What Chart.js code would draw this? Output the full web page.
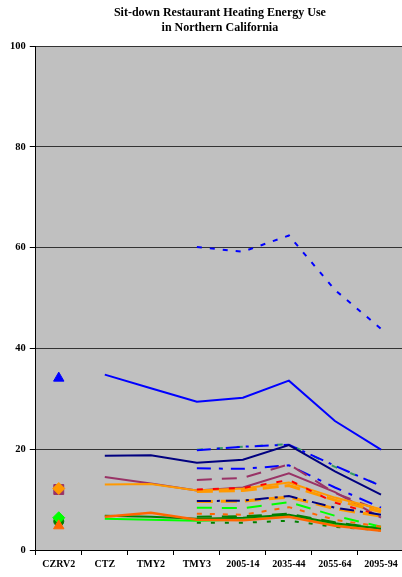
<!DOCTYPE html>
<html>
<head>
<meta charset="utf-8">
<script src="https://cdn.jsdelivr.net/npm/chart.js@4.4.0/dist/chart.umd.min.js"></script>
<style>
  html, body { margin: 0; padding: 0; background: #fff; overflow: hidden; }
  #wrap { width: 438px; height: 577px; }
</style>
</head>
<body>
<div id="wrap"><canvas id="chart" width="438" height="577"></canvas></div>
<script>
const categories = ['CZRV2', 'CTZ', 'TMY2', 'TMY3', '2005-14', '2035-44', '2055-64', '2095-94'];

// historic / base runs (solid)
const blueBase      = [null, 34.8, 32.1, 29.4, 30.2, 33.6, 25.6, 19.9];
const navyBase      = [null, 18.7, 18.8, 17.3, 17.9, 20.8, 15.6, 11.0];
const plumBase      = [null, 14.5, 13.2, 11.8, 12.4, 15.2, 11.5, 6.4];
const orangeBase    = [null, 13.0, 13.1, 11.8, 12.2, 13.4, 10.4, 8.1];
const limeBase      = [null, 6.2, 6.0, 5.8, 6.0, 6.7, 5.0, 4.4];
const greenBase     = [null, 6.8, 6.6, 6.2, 6.4, 7.0, 5.3, 4.2];
const orangeRedBase = [null, 6.6, 7.4, 6.0, 5.9, 6.6, 4.8, 3.8];

// future scenario runs (dashed)
const blueDotted   = [null, null, null, 60.1, 59.2, 62.4, 51.6, 43.9];
const blueDashDot  = [null, null, null, 19.8, 20.5, 20.9, 16.7, 12.7];
const seaGreenDash = [null, null, null, 19.9, 20.5, 21.0, 16.5, 12.8];
const blueDash     = [null, null, null, 16.2, 16.1, 16.8, 12.4, 8.4];
const plumDash     = [null, null, null, 13.9, 14.3, 17.0, 11.3, 7.8];
const redDash      = [null, null, null, 12.0, 12.3, 13.9, 9.4, 6.8];
const orangeDash   = [null, null, null, 11.6, 11.8, 12.8, 9.9, 7.6];
const navyDash     = [null, null, null, 9.7, 9.8, 10.7, 8.4, 7.0];
const orangeDash2  = [null, null, null, 9.6, 9.7, 10.5, 8.2, 6.7];
const limeDash     = [null, null, null, 8.4, 8.3, 9.5, 6.8, 4.6];
const orangeRedDot = [null, null, null, 7.2, 7.0, 8.5, 6.0, 4.6];
const greenDash    = [null, null, null, 6.6, 6.7, 7.2, 5.5, 4.3];
const greenDot     = [null, null, null, 5.4, 5.4, 5.8, 4.6, 3.9];

// CZRV2 single markers
const blueMark      = [34.1, null, null, null, null, null, null, null];
const plumMark      = [12.0, null, null, null, null, null, null, null];
const orangeMark    = [12.2, null, null, null, null, null, null, null];
const limeMark      = [6.4, null, null, null, null, null, null, null];
const greenMark     = [5.7, null, null, null, null, null, null, null];
const orangeRedMark = [4.8, null, null, null, null, null, null, null];

function line(data, color, dash, width) {
    return { data: data, borderColor: color, backgroundColor: color, borderWidth: width || 2,
             borderDash: dash || [], pointRadius: 0, tension: 0, fill: false };
}
function mark(data, color, style, r) {
    return { data: data, borderColor: color, backgroundColor: color, showLine: false,
             pointStyle: style, pointRadius: r, pointBorderWidth: 1 };
}

// first in list is drawn on top
const datasets = [
    mark(orangeRedMark, '#FF6600', 'triangle', 6),
    mark(limeMark, '#00FF00', 'rectRot', 6),
    mark(greenMark, '#008000', 'circle', 5),
    mark(orangeMark, '#FF9900', 'rectRot', 6),
    mark(plumMark, '#993366', 'rect', 7),
    mark(blueMark, '#0000FF', 'triangle', 6),
    line(orangeRedBase, '#FF6600', [], 2.5),
    line(orangeRedDot, '#FF6600', [5, 8]),
    line(greenBase, '#008000'),
    line(limeBase, '#00FF00'),
    line(greenDot, '#008000', [4, 10]),
    line(greenDash, '#008000', [15, 10]),
    line(limeDash, '#00FF00', [15, 10]),
    line(navyDash, '#000080', [14, 6, 3, 6]),
    line(orangeDash2, '#FF9900', [16, 8], 3),
    line(redDash, '#FF0000', [6, 10]),
    line(orangeBase, '#FF9900'),
    line(orangeDash, '#FF9900', [16, 6], 3),
    line(plumBase, '#993366'),
    line(plumDash, '#993366', [15, 10]),
    line(blueDash, '#0000FF', [14, 8, 4, 8]),
    line(navyBase, '#000080'),
    line(blueDashDot, '#0000FF', [14, 6, 3, 6]),
    line(seaGreenDash, '#339966', [6, 14]),
    line(blueBase, '#0000FF'),
    line(blueDotted, '#0000FF', [5, 8])
];

const plotBg = {
    id: 'plotBg',
    beforeDraw(chart) {
        const a = chart.chartArea, ctx = chart.ctx;
        ctx.save();
        ctx.fillStyle = '#C0C0C0';
        ctx.fillRect(a.left, a.top, a.right - a.left, a.bottom - a.top);
        ctx.restore();
    }
};

Chart.defaults.font.family = "'Liberation Serif', 'DejaVu Serif', serif";
Chart.defaults.color = '#000';

new Chart(document.getElementById('chart'), {
    type: 'line',
    data: { labels: categories, datasets: datasets },
    options: {
        responsive: false,
        animation: false,
        layout: { padding: { left: 6, right: 34, top: 0, bottom: 4 } },
        plugins: {
            legend: { display: false },
            tooltip: { enabled: false },
            title: {
                display: true,
                fullSize: false,
                text: ['Sit-down Restaurant Heating Energy Use', 'in Northern California'],
                font: { size: 12, weight: 'bold', lineHeight: 1.25 },
                color: '#000',
                padding: { top: 5, bottom: 11 }
            }
        },
        scales: {
            x: {
                offset: true,
                grid: { offset: true, drawOnChartArea: false, tickLength: 5, tickColor: '#000' },
                border: { color: '#000', width: 1 },
                ticks: { font: { size: 10, weight: 'bold' }, padding: 3, maxRotation: 0 }
            },
            y: {
                min: 0, max: 100,
                ticks: { stepSize: 20, font: { size: 10.5, weight: 'bold' }, padding: 4 },
                grid: { color: '#333', lineWidth: 1, tickLength: 6, tickColor: '#000' },
                border: { color: '#000', width: 1 }
            }
        }
    },
    plugins: [plotBg]
});
</script>
</body>
</html>
